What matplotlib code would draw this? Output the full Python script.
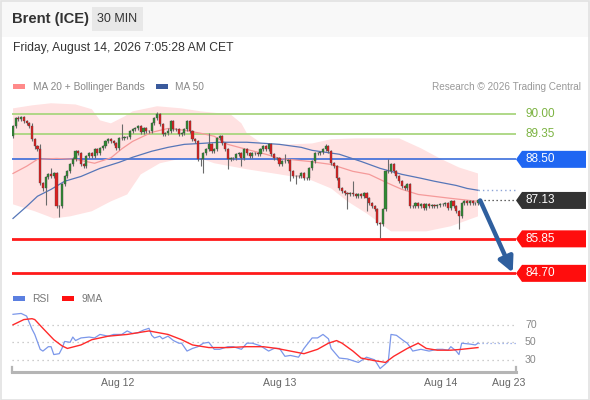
import numpy as np
import matplotlib
matplotlib.use('Agg')
import matplotlib.pyplot as plt
from matplotlib.patches import Polygon, Rectangle
import matplotlib.transforms as mtransforms

plt.rcParams['font.family'] = ['Liberation Sans', 'DejaVu Sans']

# ---------------- data ----------------
title = "Brent (ICE)"
timeframe = "30 MIN"
timestamp = "Friday, August 14, 2026 7:05:28 AM CET"

first_open = 89.27
closes = [
    89.60, 89.87, 89.83, 89.90, 89.77, 89.70, 89.60, 89.17, 88.93, 88.83,
    87.70, 87.53, 87.90, 88.00, 87.93, 88.03, 86.93, 86.93, 87.67, 87.93,
    88.10, 88.33, 88.50, 88.77, 88.70, 88.33, 88.27, 88.60, 88.70, 88.60,
    88.83, 88.70, 88.87, 88.93, 89.10, 89.17, 89.10, 89.03, 88.87, 89.20,
    89.20, 89.23, 89.23, 89.43, 89.50, 89.53, 89.60, 89.40, 89.53, 89.43,
    89.43, 89.70, 89.87, 90.00, 89.67, 89.33, 89.37, 89.43, 89.77, 89.50,
    89.50, 89.33, 89.37, 89.50, 89.77, 89.43, 89.17, 89.10, 88.50, 88.50,
    88.70, 88.83, 89.00, 88.77, 88.83, 89.20, 89.27, 89.03, 88.83, 88.50,
    88.53, 88.53, 88.67, 88.70, 88.53, 88.83, 88.70, 88.60, 88.70, 88.70,
    88.67, 88.83, 88.93, 88.83, 89.00, 88.67, 88.53, 88.53, 88.33, 88.43,
    88.43, 88.47, 88.10, 87.93, 87.93, 87.93, 88.03, 87.87, 87.87, 88.20,
    88.43, 88.70, 88.70, 88.73, 88.83, 88.93, 88.77, 88.37, 88.27, 87.87,
    87.53, 87.43, 87.37, 87.33, 87.37, 87.33, 87.27, 87.33, 87.27, 87.37,
    87.20, 87.03, 86.93, 86.83, 86.37, 86.33, 86.83, 88.10, 88.10, 88.33,
    88.10, 87.93, 87.77, 87.60, 87.53, 87.67, 86.93, 86.93, 87.03, 86.93,
    87.00, 86.87, 87.00, 86.93, 86.97, 86.93, 86.97, 87.00, 87.00, 87.03,
    86.87, 87.10, 86.93, 86.77, 86.60, 87.03, 87.10, 87.03, 87.10, 87.03,
    87.03, 87.13,
]
wick_up = [
    0.05, 0.05, 0.06, 0.05, 0.05, 0.05, 0.05, 0.10, 0.05, 0.05,
    0.17, 0.05, 0.05, 0.05, 0.20, 0.05, 0.05, 0.05, 0.05, 0.05,
    0.05, 0.05, 0.08, 0.05, 0.05, 0.05, 0.05, 0.05, 0.05, 0.05,
    0.05, 0.05, 0.05, 0.05, 0.05, 0.05, 0.05, 0.05, 0.05, 0.05,
    0.47, 0.05, 0.05, 0.05, 0.05, 0.05, 0.05, 0.05, 0.05, 0.05,
    0.05, 0.05, 0.05, 0.07, 0.05, 0.05, 0.05, 0.12, 0.05, 0.05,
    0.05, 0.05, 0.05, 0.05, 0.05, 0.05, 0.05, 0.05, 0.05, 0.05,
    0.05, 0.05, 0.37, 0.05, 0.05, 0.05, 0.05, 0.05, 0.05, 0.05,
    0.05, 0.05, 0.05, 0.05, 0.05, 0.05, 0.05, 0.05, 0.05, 0.05,
    0.05, 0.05, 0.05, 0.05, 0.05, 0.05, 0.05, 0.05, 0.05, 0.05,
    0.24, 0.05, 0.05, 0.05, 0.05, 0.05, 0.05, 0.05, 0.05, 0.05,
    0.05, 0.05, 0.05, 0.05, 0.05, 0.07, 0.05, 0.05, 0.05, 0.05,
    0.05, 0.05, 0.05, 0.05, 0.05, 0.40, 0.05, 0.05, 0.05, 0.05,
    0.05, 0.05, 0.05, 0.05, 0.05, 0.05, 0.05, 0.05, 0.40, 0.05,
    0.05, 0.05, 0.05, 0.05, 0.05, 0.05, 0.05, 0.05, 0.05, 0.05,
    0.05, 0.05, 0.05, 0.05, 0.05, 0.05, 0.05, 0.05, 0.05, 0.05,
    0.05, 0.05, 0.05, 0.05, 0.05, 0.05, 0.05, 0.05, 0.05, 0.05,
    0.05, 0.05,
]
wick_dn = [
    0.05, 0.05, 0.05, 0.05, 0.05, 0.05, 0.05, 0.05, 0.10, 0.05,
    0.05, 0.10, 0.56, 0.05, 0.05, 0.05, 0.05, 0.36, 0.05, 0.05,
    0.05, 0.05, 0.05, 0.05, 0.05, 0.05, 0.05, 0.05, 0.05, 0.05,
    0.05, 0.05, 0.05, 0.05, 0.05, 0.05, 0.05, 0.05, 0.05, 0.05,
    0.05, 0.05, 0.05, 0.05, 0.05, 0.05, 0.05, 0.05, 0.05, 0.05,
    0.05, 0.05, 0.05, 0.05, 0.05, 0.05, 0.05, 0.05, 0.05, 0.05,
    0.05, 0.05, 0.05, 0.05, 0.05, 0.05, 0.05, 0.05, 0.05, 0.23,
    0.47, 0.05, 0.05, 0.05, 0.05, 0.05, 0.05, 0.05, 0.05, 0.33,
    0.05, 0.05, 0.05, 0.05, 0.26, 0.05, 0.05, 0.05, 0.05, 0.05,
    0.05, 0.05, 0.05, 0.05, 0.05, 0.05, 0.05, 0.05, 0.05, 0.05,
    0.05, 0.05, 0.33, 0.05, 0.26, 0.05, 0.05, 0.05, 0.05, 0.05,
    0.05, 0.05, 0.05, 0.05, 0.05, 0.05, 0.05, 0.05, 0.05, 0.05,
    0.05, 0.05, 0.05, 0.50, 0.05, 0.05, 0.05, 0.05, 0.05, 0.05,
    0.43, 0.05, 0.05, 0.05, 0.05, 0.46, 0.05, 0.05, 0.05, 0.05,
    0.05, 0.05, 0.05, 0.05, 0.05, 0.05, 0.05, 0.05, 0.05, 0.05,
    0.05, 0.05, 0.05, 0.05, 0.05, 0.05, 0.05, 0.05, 0.05, 0.05,
    0.05, 0.05, 0.05, 0.05, 0.43, 0.05, 0.05, 0.05, 0.05, 0.05,
    0.05, 0.05,
]

ma50_idx = [0, 5, 9, 14, 19, 25, 32, 39, 44, 51, 57, 63, 69, 76, 86, 93, 98, 106,
            110, 120, 128, 135, 143, 150, 155, 163, 167, 171]
ma50 = [86.53, 86.93, 87.27, 87.50, 87.77, 87.93, 88.20, 88.40, 88.57, 88.77, 88.90,
        89.00, 89.03, 89.07, 89.07, 89.03, 89.00, 88.90, 88.80, 88.67, 88.43, 88.20,
        88.00, 87.87, 87.77, 87.63, 87.53, 87.47]

ma20_idx = [0, 5, 9, 16, 23, 30, 36, 40, 44, 51, 57, 63, 69, 74, 79, 86, 93, 98,
            109, 117, 125, 131, 138, 143, 149, 161, 171]
ma20 = [88.03, 88.27, 88.50, 88.53, 88.50, 88.37, 88.55, 88.85, 89.10, 89.40, 89.53,
        89.47, 89.37, 89.27, 89.00, 88.83, 88.67, 88.53, 88.43, 88.33, 88.10, 88.00,
        87.70, 87.50, 87.33, 87.20, 87.10]

bb_up_idx = [0, 7, 14, 23, 29, 32, 36, 41, 44, 53, 62, 69, 80, 84, 86, 92, 102,
             110, 117, 126, 135, 142, 150, 157, 164, 171]
bb_up = [90.20, 90.30, 90.37, 90.33, 90.17, 89.80, 89.70, 89.93, 90.10, 90.27, 90.20,
         90.10, 90.00, 89.70, 89.37, 89.00, 89.00, 89.03, 89.17, 89.20, 89.20, 89.20,
         88.87, 88.53, 88.23, 88.03]
bb_lo_idx = [0, 8, 15, 21, 29, 36, 42, 47, 54, 62, 69, 74, 86, 98, 109, 117, 123,
             130, 135, 139, 152, 161, 171]
bb_lo = [87.00, 86.77, 86.53, 86.60, 86.77, 87.10, 87.33, 88.00, 88.37, 88.53, 88.53,
         88.37, 88.17, 88.00, 87.83, 87.53, 87.10, 86.70, 86.37, 86.10, 86.10, 86.27,
         86.60]

resistances = [90.00, 89.35]
pivot = 88.50
last_price = 87.13
supports = [85.85, 84.70]

rsi_idx = [0, 3, 5, 7, 8, 10, 11, 13, 14, 15, 17, 18, 19, 21, 22, 23, 25, 28, 30, 32,
           35, 37, 40, 42, 44, 46, 48, 50, 51, 52, 54, 55, 57, 59, 61, 62, 64, 66, 68, 70,
           72, 74, 76, 79, 81, 84, 86, 88, 91, 94, 96, 98, 100, 102, 105, 107, 110, 112,
           114, 116, 117, 120, 123, 127, 130, 133, 135, 138, 139, 141, 144, 145, 147, 150,
           153, 156, 158, 160, 161, 163, 164, 165, 168, 170, 171]
rsi = [82, 83, 80, 65, 59, 42, 40, 45, 45, 36, 37, 43, 51, 50, 56, 52, 55, 56, 55, 59,
       57, 59, 59, 63, 60, 61, 64, 66, 58, 55, 57, 54, 57, 52, 49, 49, 40, 43, 45, 49,
       50, 42, 42, 45, 45, 42, 49, 49, 46, 40, 43, 43, 34, 35, 33, 43, 55, 55, 59, 54,
       43, 32, 31, 27, 33, 30, 20, 28, 59, 58, 51, 49, 40, 42, 40, 42, 42, 41, 45, 40,
       36, 49, 48, 47, 49]
ma9_idx = [0, 4, 7, 8, 11, 15, 18, 20, 25, 29, 35, 42, 50, 57, 62, 66, 72, 79, 86, 92,
           97, 102, 107, 112, 116, 119, 121, 125, 128, 133, 137, 140, 145, 149, 152, 156,
           161, 165, 171]
ma9 = [70, 76, 77, 76, 66, 53, 46, 43, 47, 53, 57, 59, 63, 59, 53, 47, 44, 44, 45, 45,
       43, 40, 37, 42, 49, 52, 49, 40, 32, 29, 27, 34, 43, 49, 43, 41, 41, 42, 44]
rsi_levels = [70, 50, 30]

date_labels = ["Aug 12", "Aug 13", "Aug 14", "Aug 23"]
date_idx = [38.6, 98.2, 157.4, 182.4]

# ---------------- layout helpers ----------------
W, H = 590, 400
fig = plt.figure(figsize=(W / 100, H / 100), dpi=100)
fig.patch.set_facecolor('white')

def fx(px):
    return px / W

def fy(py):
    return 1 - py / H

# header
fig.patches.append(Rectangle((0, fy(37)), 1, 1 - fy(37), transform=fig.transFigure,
                             facecolor='#f8f8f8', edgecolor='none', zorder=0))
fig.patches.append(Rectangle((fx(92), fy(31)), fx(143) - fx(92), fy(7) - fy(31),
                             transform=fig.transFigure, facecolor='#e8e8e8',
                             edgecolor='none', zorder=1))
fig.patches.append(Rectangle((fx(0.5), fy(399.5)), fx(589) - fx(0.5), fy(0.5) - fy(399.5),
                             transform=fig.transFigure, facecolor='none',
                             edgecolor='#e2e2e2', lw=1.2, zorder=1))
fig.text(fx(12), fy(18.5), title, fontsize=10.6, fontweight='bold', color='#333333',
         va='center', ha='left')
fig.text(fx(117.5), fy(19), timeframe, fontsize=9, color='#333333', va='center', ha='center')
fig.text(fx(13), fy(48), timestamp, fontsize=8.7, color='#333333', va='center', ha='left')

# legend (price)
fig.patches.append(Rectangle((fx(13), fy(89)), fx(12), fy(84) - fy(89),
                             transform=fig.transFigure, facecolor='#ff8a8a', edgecolor='none'))
fig.text(fx(33), fy(86.5), "MA 20 + Bollinger Bands", fontsize=7.3, color='#888888',
         va='center', ha='left')
fig.patches.append(Rectangle((fx(156), fy(89)), fx(12), fy(84) - fy(89),
                             transform=fig.transFigure, facecolor='#3a5a9c', edgecolor='none'))
fig.text(fx(175), fy(86.5), "MA 50", fontsize=7.3, color='#888888', va='center', ha='left')
fig.text(fx(581), fy(86.5), "Research \u00a9 2026 Trading Central", fontsize=7.2,
         color='#999999', va='center', ha='right')

# legend (rsi)
fig.patches.append(Rectangle((fx(13), fy(301)), fx(12), fy(296) - fy(301),
                             transform=fig.transFigure, facecolor='#5b7fe0', edgecolor='none'))
fig.text(fx(32), fy(298.5), "RSI", fontsize=7.4, color='#777777', va='center', ha='left')
fig.patches.append(Rectangle((fx(62), fy(301)), fx(12), fy(296) - fy(301),
                             transform=fig.transFigure, facecolor='#ff1010', edgecolor='none'))
fig.text(fx(81), fy(298.5), "9MA", fontsize=7.4, color='#777777', va='center', ha='left')

# ---------------- price axes ----------------
n = len(closes)
px_per = (478 - 13) / (n - 1)
xl0 = -(13 - 12) / px_per
xl1 = (n - 1) + (516 - 478) / px_per

ax = fig.add_axes([fx(12), fy(280), fx(516) - fx(12), fy(100) - fy(280)])
ax.set_xlim(xl0, xl1)
ax.set_ylim(93.7667 - 280 / 30 + 0.045, 93.7667 - 100 / 30 + 0.045)
ax.axis('off')

# bollinger band
poly_x = list(bb_up_idx) + list(bb_lo_idx[::-1])
poly_y = list(bb_up) + list(bb_lo[::-1])
ax.fill(poly_x, poly_y, color='#ffe2e2', lw=0, zorder=1)

# levels
for r in resistances:
    ax.axhline(r, color='#a9d57f', lw=1.3, zorder=2)
ax.axhline(pivot, color='#2a62d8', lw=1.1, zorder=2)
for s in supports:
    ax.axhline(s, color='#ff1a1a', lw=2.0, zorder=2)

# moving averages
ax.plot(ma20_idx, ma20, color='#f59a9a', lw=0.9, zorder=3)
ax.plot(ma50_idx, ma50, color='#5676b8', lw=0.9, zorder=3)
ax.plot([ma50_idx[-1], xl1], [ma50[-1], ma50[-1]], color='#8ca3d6', lw=1.0,
        ls=(0, (1, 2.2)), zorder=3)
ax.plot([n - 1 + 0.6, xl1], [last_price, last_price], color='#333333', lw=0.9,
        ls=(0, (1, 2.2)), zorder=3)

# candles
idx = np.arange(n)
c = np.array(closes)
o = np.array([first_open] + closes[:-1])
hi = np.maximum(o, c) + np.array(wick_up)
lo = np.minimum(o, c) - np.array(wick_dn)
ax.vlines(idx, lo, hi, color='#6a6a6a', lw=0.8, zorder=4)
col = np.where(c > o, '#2f8a33', np.where(c < o, '#dd1f1f', '#555555'))
body_h = np.maximum(np.abs(c - o), 0.025)
ax.bar(idx, body_h, bottom=np.minimum(o, c), width=0.78, color=col,
       edgecolor='#444444', linewidth=0.25, zorder=5)

# arrow
ax.annotate('', xy=(xl1 - 1.2, supports[-1] + 0.02), xytext=(n - 1 + 0.8, last_price),
            arrowprops=dict(arrowstyle='-|>,head_width=0.45,head_length=0.9',
                            color='#2f5f9e', lw=3.2, shrinkA=0, shrinkB=0),
            annotation_clip=False, zorder=6)

# right labels
trans = mtransforms.blended_transform_factory(ax.transAxes, ax.transData)
ax_w = 516 - 12
tip = 1.0
b0 = (522 - 12) / ax_w
b1 = (586 - 12) / ax_w
txt_x = (525 - 12) / ax_w
hh = 8.5 / 30

def box(v, color):
    pts = [(tip, v), (b0, v + hh), (b1, v + hh), (b1, v - hh), (b0, v - hh)]
    ax.add_patch(Polygon(pts, closed=True, transform=trans, facecolor=color,
                         edgecolor='none', clip_on=False, zorder=7))
    ax.text(txt_x, v, f"{v:.2f}", transform=trans, color='white', fontsize=8.5,
            va='center', ha='left', zorder=8, clip_on=False)

for r in resistances:
    ax.text(txt_x, r, f"{r:.2f}", transform=trans, color='#7cb342', fontsize=8.5,
            va='center', ha='left', clip_on=False)
box(pivot, '#1f66f2')
box(last_price, '#333333')
for s in supports:
    box(s, '#ff0d0d')

# ---------------- RSI axes ----------------
rax = fig.add_axes([fx(12), fy(372), fx(516) - fx(12), fy(300) - fy(372)])
rax.set_xlim(xl0, xl1)
rax.set_ylim(50 + (341 - 372) / 0.875 + 1.5, 50 + (341 - 300) / 0.875 + 1.5)
for s in ['top', 'left', 'right']:
    rax.spines[s].set_visible(False)
rax.spines['bottom'].set_color('#b5b5b5')
rax.spines['bottom'].set_linewidth(2.2)
rax.set_xticks([])
rax.set_yticks([])
rax.patch.set_alpha(0)
for v in rsi_levels:
    rax.axhline(v, color='#bdbdbd', lw=0.9, ls=(0, (1, 3)), zorder=1)
    rax.text(txt_x, v, f"{v}", transform=mtransforms.blended_transform_factory(
        rax.transAxes, rax.transData), color='#888888', fontsize=7.6, va='center',
        ha='left', clip_on=False)
rax.plot(rsi_idx, rsi, color='#7b97ea', lw=0.9, zorder=3)
rax.plot(ma9_idx, ma9, color='#ff2a2a', lw=1.0, zorder=4)
rax.plot([rsi_idx[-1], xl1], [rsi[-1], rsi[-1]], color='#8ca3e6', lw=0.9,
         ls=(0, (1, 2.2)), zorder=3)
rtrans = mtransforms.blended_transform_factory(rax.transData, rax.transAxes)
for end in (xl0 + 0.15, xl1 - 0.15):
    rax.plot([end, end], [0, 0.07], transform=rtrans, color='#b5b5b5', lw=1.6,
             clip_on=False)
for lab, p in zip(date_labels, date_idx):
    rax.text(p, -(382.5 - 372) / 72, lab, transform=rtrans, color='#666666',
             fontsize=7.6, va='center', ha='center', clip_on=False)

fig.savefig('out.png', dpi=100)
